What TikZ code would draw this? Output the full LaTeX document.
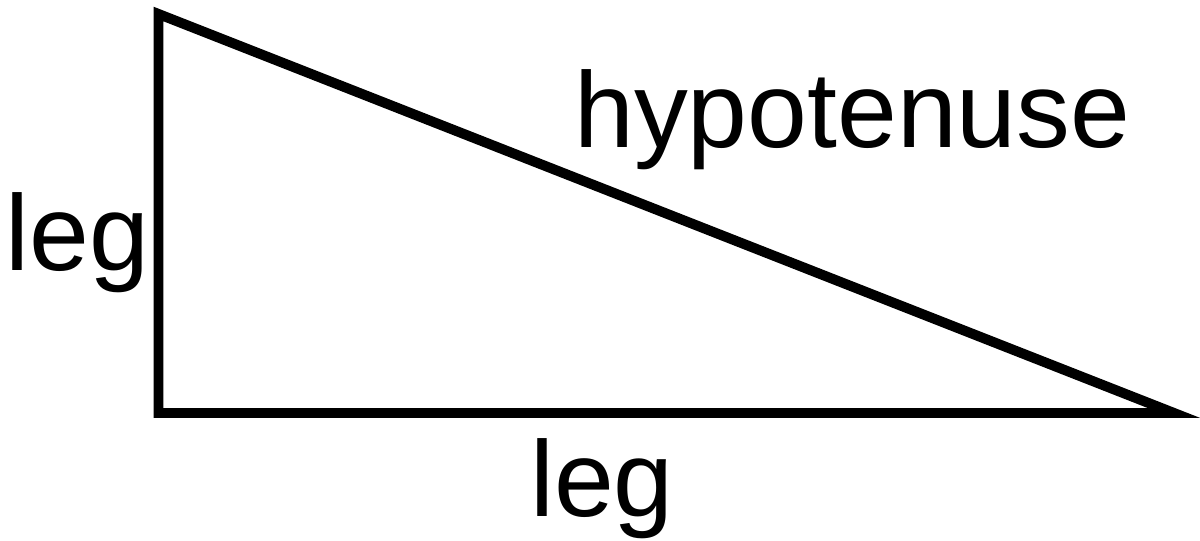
\documentclass[tikz,border=0pt]{standalone}
\usepackage{fontspec}
\setmainfont{Liberation Sans}
\usetikzlibrary{positioning}

\begin{document}
\begin{tikzpicture}[
    side/.style = {line width=7.1pt, line join=miter, black},
    lbl/.style  = {font=\fontsize{76.5}{80}\selectfont, inner sep=0pt, anchor=base west}
]
\useasboundingbox (0,0) rectangle (30,13.5);

%% ── Vertices ────────────────────────────────────────────────────────────────
\coordinate (top)    at (3.9625,13.15);
\coordinate (corner) at (3.9625,3.175);
\coordinate (tip)    at (29.35,3.175);

%% ── Triangle ────────────────────────────────────────────────────────────────
\draw[side] (top) -- (corner) -- (tip) -- cycle;

%% ── Labels ──────────────────────────────────────────────────────────────────
\node[lbl] (hyp)     at (14.35,9.8) {hypotenuse};
\node[lbl] (legleft) at (0.13,6.75)    {leg};
\node[lbl] (legbot)  at (13.25,0.6) {leg};

\end{tikzpicture}
\end{document}
